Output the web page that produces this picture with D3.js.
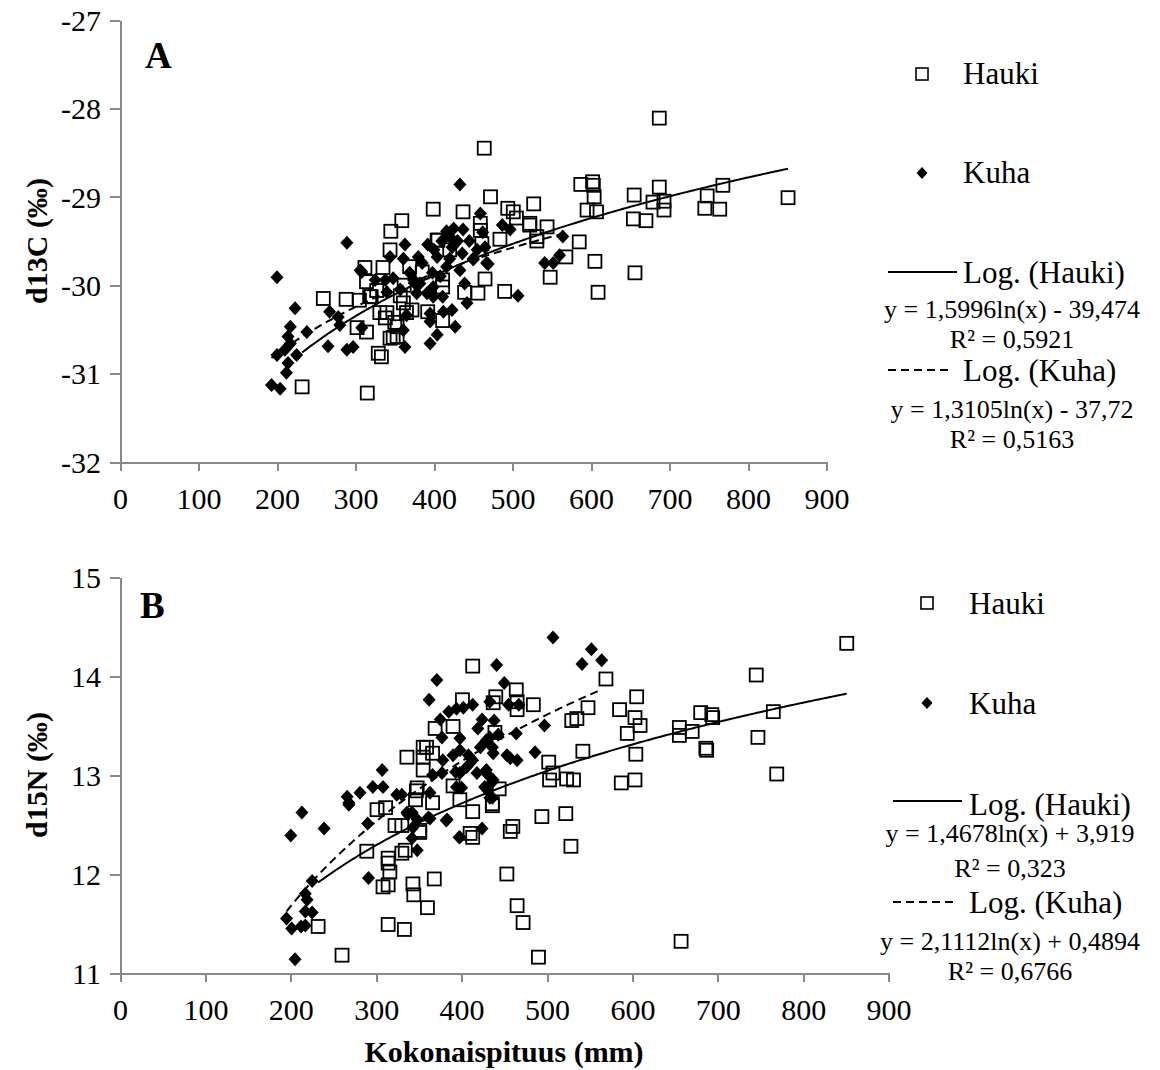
<!doctype html>
<html>
<head>
<meta charset="UTF-8" />
<title>d13C / d15N vs Kokonaispituus</title>
<style type="text/css">
body {
	margin: 0;
	background: #fff;
}
svg text {
	font-family: "Liberation Serif", "Times New Roman", serif;
	fill: #000;
}
.axis path, .axis line {
	stroke: #898989;
	stroke-width: 2px;
	shape-rendering: crispEdges;
}
.axis text {
	font-size: 30px;
}
.hauki {
	fill: #fff;
	fill-opacity: 0;
	stroke: #000;
	stroke-width: 1.8px;
}
.kuha {
	fill: #000;
}
.trend {
	fill: none;
	stroke: #000;
	stroke-width: 2px;
}
.dashed {
	stroke-dasharray: 8,5;
}
</style>
<script src="https://d3js.org/d3.v7.min.js"></script>
</head>
<body>
<script>
// ---- data: [length mm, value]
var haukiC = [
	[464,-28.45],[687,-28.11],[851,-29.01],[399,-29.14],[437,-29.17],[472,-29.0],[494,-29.13],[501,-29.17],
	[505,-29.24],[527,-29.08],[522,-29.3],[544,-29.34],[531,-29.45],[531,-29.5],[484,-29.48],[459,-29.3],
	[461,-29.53],[585,-29.51],[568,-29.68],[605,-29.73],[548,-29.91],[465,-29.93],[456,-30.09],[490,-30.07],
	[609,-30.08],[656,-29.86],[411,-30.4],[439,-30.08],[587,-28.86],[602,-28.83],[603,-28.87],[604,-29.0],
	[595,-29.15],[607,-29.17],[655,-28.98],[687,-28.89],[679,-29.06],[693,-29.05],[693,-29.15],[654,-29.25],
	[670,-29.27],[748,-28.99],[768,-28.87],[745,-29.13],[764,-29.14],[359,-29.27],[345,-29.39],[344,-29.6],
	[312,-29.8],[335,-29.8],[314,-29.96],[259,-30.15],[288,-30.16],[305,-30.17],[320,-30.13],[302,-30.48],
	[314,-30.53],[340,-30.31],[331,-30.31],[350,-30.42],[353,-30.58],[344,-30.6],[329,-30.77],[333,-30.81],
	[361,-30.2],[365,-30.31],[372,-30.28],[369,-29.79],[405,-29.49],[411,-29.94],[411,-30.02],[459,-29.38],
	[522,-29.32],[232,-31.15],[315,-31.22],[327,-30.06],[318,-30.13],[404,-29.49],[392,-30.3],[357,-30.12],
	[362,-30.0],[385,-29.85],[420,-29.6],[338,-30.37],[353,-30.47],[348,-30.59]
];
var kuhaC = [
	[289,-29.52],[200,-29.91],[223,-30.26],[267,-30.3],[278,-30.36],[280,-30.45],[238,-30.53],[217,-30.47],
	[214,-30.58],[217,-30.66],[225,-30.79],[200,-30.79],[210,-30.73],[214,-30.88],[212,-30.99],[193,-31.13],
	[204,-31.17],[265,-30.69],[289,-30.73],[297,-30.7],[308,-30.48],[308,-29.85],[363,-29.54],[344,-29.68],
	[361,-29.7],[380,-29.68],[392,-29.54],[363,-30.7],[395,-30.66],[404,-30.56],[395,-30.32],[395,-30.41],
	[423,-30.28],[427,-30.47],[442,-30.2],[467,-29.75],[450,-29.71],[399,-30.13],[411,-30.13],[378,-30.09],
	[348,-29.92],[374,-29.94],[382,-29.98],[365,-30.34],[361,-30.51],[340,-30.08],[433,-28.86],[416,-29.39],
	[425,-29.36],[437,-29.37],[459,-29.19],[462,-29.4],[465,-29.57],[487,-29.32],[497,-29.37],[450,-29.7],
	[469,-29.76],[416,-29.79],[408,-29.9],[399,-30.02],[391,-30.09],[398,-29.86],[404,-29.68],[423,-29.57],
	[436,-29.64],[433,-29.83],[439,-29.98],[376,-29.98],[369,-29.86],[338,-29.94],[325,-29.94],[306,-29.83],
	[357,-30.05],[507,-30.12],[541,-29.75],[552,-29.75],[560,-29.66],[564,-29.45],[400,-29.6],[410,-29.5],
	[420,-29.45],[430,-29.5],[385,-29.75],[420,-29.7],[445,-29.5],[455,-29.6],[412,-30.3]
];
var haukiN = [
	[851,14.33],[745,14.01],[765,13.64],[747,13.38],[769,13.01],[680,13.63],[693,13.61],[694,13.58],
	[686,13.27],[687,13.25],[655,13.48],[655,13.4],[670,13.44],[657,11.32],[605,13.79],[585,13.66],
	[603,13.58],[609,13.5],[594,13.42],[604,13.21],[603,12.95],[587,12.92],[569,13.97],[548,13.68],
	[529,13.55],[535,13.57],[542,13.24],[502,13.13],[507,13.02],[503,12.95],[523,12.96],[531,12.95],
	[494,12.58],[522,12.61],[528,12.28],[460,12.48],[457,12.43],[453,12.0],[465,11.68],[472,11.51],
	[490,11.16],[413,14.1],[401,13.76],[390,13.49],[369,13.47],[440,13.79],[437,13.73],[464,13.86],
	[465,13.66],[465,13.74],[484,13.71],[439,13.43],[444,12.86],[413,12.63],[413,12.37],[436,12.71],
	[390,12.89],[359,13.28],[368,11.95],[360,11.66],[351,12.44],[336,13.18],[355,13.18],[355,13.05],
	[347,12.84],[346,12.75],[366,12.72],[301,12.65],[311,12.67],[398,12.75],[436,12.69],[366,13.22],
	[355,13.28],[348,12.87],[322,12.49],[330,12.49],[351,12.42],[410,12.41],[289,12.23],[314,12.16],
	[314,12.11],[330,12.21],[334,12.24],[316,12.02],[308,11.87],[314,11.89],[343,11.9],[344,11.79],
	[232,11.47],[314,11.49],[333,11.44],[260,11.18]
];
var kuhaN = [
	[213,12.62],[200,12.39],[239,12.46],[268,12.7],[290,12.51],[291,11.96],[225,11.93],[217,11.8],
	[219,11.74],[217,11.62],[225,11.61],[195,11.55],[201,11.45],[212,11.47],[217,11.48],[205,11.14],
	[337,12.6],[348,12.55],[343,12.47],[363,12.56],[348,12.24],[342,12.36],[371,13.96],[362,13.76],
	[307,13.05],[296,12.88],[308,12.88],[281,12.82],[266,12.78],[268,12.72],[324,12.8],[330,12.8],
	[336,12.62],[375,13.56],[385,13.64],[394,13.67],[402,13.68],[413,13.71],[424,13.56],[419,13.47],
	[398,13.37],[377,13.38],[378,13.15],[390,13.2],[398,13.25],[408,13.2],[413,13.15],[422,13.28],
	[429,13.35],[437,13.22],[406,13.08],[398,13.02],[418,13.02],[429,13.05],[437,12.95],[394,12.88],
	[400,12.87],[427,12.88],[433,12.77],[441,14.11],[363,12.82],[366,13.0],[377,13.02],[361,12.57],
	[383,12.55],[398,12.37],[424,12.46],[342,12.62],[507,14.39],[552,14.27],[541,14.12],[564,14.16],
	[450,13.93],[433,13.74],[467,13.71],[497,13.5],[464,13.42],[486,13.23],[443,13.41],[453,13.2],
	[465,13.15],[430,12.85],[436,12.77],[457,13.17],[433,13.38],[436,13.28],[431,13.0],[436,12.93],
	[393,13.03],[382,12.54],[397,12.37],[455,13.71],[438,13.55]
];

var xTicks = [0,100,200,300,400,500,600,700,800,900];
var yTicksA = [-32,-31,-30,-29,-28,-27];
var yTicksB = [11,12,13,14,15];

// trendline coefficients as printed: y = a ln(x) + b, over [from, to]
var trendA = {hauki: {a: 1.5996, b: -39.474, from: 232, to: 851}, kuha: {a: 1.3105, b: -37.72, from: 193, to: 564}};
var trendB = {hauki: {a: 1.4678, b: 3.919, from: 232, to: 851}, kuha: {a: 2.1112, b: 0.4894, from: 195, to: 564}};

var legendA = ["Hauki", "Kuha", "Log. (Hauki)", "y = 1,5996ln(x) - 39,474", "R² = 0,5921", "Log. (Kuha)", "y = 1,3105ln(x) - 37,72", "R² = 0,5163"];
var legendB = ["Hauki", "Kuha", "Log. (Hauki)", "y = 1,4678ln(x) + 3,919", "R² = 0,323", "Log. (Kuha)", "y = 2,1112ln(x) + 0,4894", "R² = 0,6766"];

var svg = d3.select("body").append("svg")
	.attr("width", 1160)
	.attr("height", 1070);

function panel(opt) {
	var x = d3.scaleLinear().domain([0, 900]).range([120, opt.right]);
	var y = d3.scaleLinear().domain(opt.ydom).range([opt.bottom, opt.top]);

	var g = svg.append("g");

	var yAxis = g.append("g")
		.attr("class", "axis")
		.attr("transform", "translate(120,0)")
		.call(d3.axisLeft(y).tickValues(opt.yticks).tickSize(10).tickSizeOuter(0).tickPadding(9)
			.tickFormat(function(d) { return String(d); }));
	yAxis.selectAll("text").attr("dy", "0.34em");

	var xAxis = g.append("g")
		.attr("class", "axis")
		.attr("transform", "translate(0," + opt.bottom + ")")
		.call(d3.axisBottom(x).tickValues(xTicks).tickSize(9).tickSizeOuter(0).tickPadding(17)
			.tickFormat(function(d) { return String(d); }));

	// kuha diamonds first, hauki squares on top
	g.selectAll("path.kuha").data(opt.kuha).enter().append("path")
		.attr("class", "kuha")
		.attr("d", "M0,-7L6.5,0L0,7L-6.5,0Z")
		.attr("transform", function(d) { return "translate(" + x(d[0]) + "," + y(d[1]) + ")"; });

	g.selectAll("rect.hauki").data(opt.hauki).enter().append("rect")
		.attr("class", "hauki")
		.attr("x", function(d) { return x(d[0]) - 6.5; })
		.attr("y", function(d) { return y(d[1]) - 6.5; })
		.attr("width", 13)
		.attr("height", 13);

	var line = d3.line()
		.x(function(d) { return x(d); })
		.y(function(d) { return y(this.a * Math.log(d) + this.b); });

	function trend(t, cls) {
		var pts = d3.range(t.from, t.to, 2).concat([t.to]);
		g.append("path")
			.attr("class", cls)
			.attr("d", d3.line()
				.x(function(d) { return x(d); })
				.y(function(d) { return y(t.a * Math.log(d) + t.b); })(pts));
	}
	trend(opt.trend.hauki, "trend");
	trend(opt.trend.kuha, "trend dashed");

	// panel letter
	g.append("text")
		.attr("x", opt.letterX)
		.attr("y", opt.letterY)
		.style("font-size", "37px")
		.style("font-weight", "bold")
		.text(opt.letter);

	// y axis title
	g.append("text")
		.attr("transform", "translate(47," + ((opt.top + opt.bottom) / 2) + ") rotate(-90)")
		.style("text-anchor", "middle")
		.style("font-size", "30px")
		.style("font-weight", "bold")
		.text(opt.ytitle);

	// legend
	var L = opt.legend, lx = opt.legX, ly = opt.legY, ty = opt.legText;
	var leg = g.append("g");
	leg.append("rect")
		.attr("x", lx - 6).attr("y", ly[0] - 6)
		.attr("width", 12).attr("height", 12)
		.attr("fill", "#fff").attr("stroke", "#000").attr("stroke-width", 1.6);
	leg.append("path")
		.attr("d", "M0,-6L5.5,0L0,6L-5.5,0Z")
		.attr("transform", "translate(" + lx + "," + ly[1] + ")");
	leg.append("line")
		.attr("class", "trend")
		.attr("x1", opt.lineX[0]).attr("x2", opt.lineX[1])
		.attr("y1", ly[2]).attr("y2", ly[2]);
	leg.append("line")
		.attr("class", "trend dashed")
		.attr("x1", opt.lineX[0]).attr("x2", opt.lineX[1] - 8)
		.attr("y1", ly[5]).attr("y2", ly[5]);

	[0, 1, 2, 5].forEach(function(i) {
		leg.append("text")
			.attr("x", opt.textX)
			.attr("y", ty[i])
			.style("font-size", "31px")
			.text(L[i]);
	});
	[3, 4, 6, 7].forEach(function(i) {
		leg.append("text")
			.attr("x", opt.eqX)
			.attr("y", ty[i])
			.style("text-anchor", "middle")
			.style("font-size", "26px")
			.text(L[i]);
	});
}

panel({
	right: 826.5, top: 20, bottom: 462, ydom: [-32, -27], yticks: yTicksA,
	hauki: haukiC, kuha: kuhaC, trend: trendA,
	letter: "A", letterX: 145, letterY: 68, ytitle: "d13C (‰)",
	legend: legendA, legX: 922, legY: [74, 173, 272, 0, 0, 370],
	legText: [84, 183, 283, 318, 348, 381, 418, 448],
	lineX: [888, 957], textX: 963, eqX: 1012
});

panel({
	right: 888.6, top: 577, bottom: 973, ydom: [11, 15], yticks: yTicksB,
	hauki: haukiN, kuha: kuhaN, trend: trendB,
	letter: "B", letterX: 140, letterY: 618, ytitle: "d15N (‰)",
	legend: legendB, legX: 927, legY: [603, 703, 801, 0, 0, 902],
	legText: [614, 714, 815, 842, 877, 913, 950, 980],
	lineX: [893, 962], textX: 969, eqX: 1010
});

svg.append("text")
	.attr("x", 504)
	.attr("y", 1062)
	.style("text-anchor", "middle")
	.style("font-size", "30px")
	.style("font-weight", "bold")
	.text("Kokonaispituus (mm)");
</script>
</body>
</html>
